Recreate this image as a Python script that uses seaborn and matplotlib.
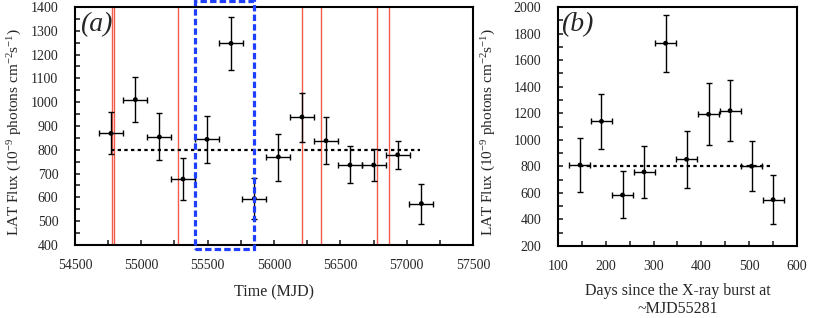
import seaborn as sns
import matplotlib.pyplot as plt
import numpy as np
import pandas as pd
from matplotlib.patches import Rectangle
from matplotlib.ticker import MultipleLocator

# panel (a): 6-month bins
mjd = [54771, 54955, 55136, 55314, 55495, 55676, 55852, 56033, 56211, 56392, 56573, 56751, 56932, 57111]
flux_a = [869, 1011, 854, 677, 844, 1247, 595, 770, 938, 838, 736, 736, 779, 574]
flux_a_hi = [958, 1105, 953, 766, 943, 1359, 683, 866, 1040, 937, 816, 802, 837, 656]
flux_a_lo = [781, 917, 757, 587, 743, 1135, 509, 670, 833, 740, 659, 669, 719, 488]
mjd_halfbin = 90

# panel (b): 45-day bins after the X-ray burst
days = [146, 191, 235, 280, 325, 369, 415, 460, 505, 550]
flux_b = [810, 1139, 584, 758, 1727, 853, 1192, 1219, 801, 549]
flux_b_hi = [1014, 1342, 763, 956, 1940, 1069, 1425, 1448, 991, 733]
flux_b_lo = [605, 931, 411, 560, 1513, 637, 960, 991, 617, 368]
days_halfbin = 22

mean_flux = 800
red_lines = [54777, 54797, 55279, 56209, 56352, 56779, 56867]
box_mjd = [55404, 55851]

df_a = pd.DataFrame({"mjd": mjd, "flux": flux_a, "hi": flux_a_hi, "lo": flux_a_lo})
df_b = pd.DataFrame({"days": days, "flux": flux_b, "hi": flux_b_hi, "lo": flux_b_lo})

sns.set_style("ticks")
plt.rcParams["font.family"] = ["Liberation Serif", "DejaVu Serif"]
plt.rcParams["mathtext.fontset"] = "custom"
plt.rcParams["mathtext.rm"] = "Liberation Serif"
plt.rcParams["mathtext.it"] = "Liberation Serif:italic"

fig = plt.figure(figsize=(8.14, 3.18), dpi=100)
ax1 = fig.add_axes([0.0921, 0.2296, 0.489, 0.7484])
ax2 = fig.add_axes([0.6855, 0.2264, 0.2936, 0.7516])

ylab = r"LAT Flux (10$^{-9}$ photons cm$^{-2}$s$^{-1}$)"
ebkw = dict(fmt="none", ecolor="black", elinewidth=1.0, capsize=2.5, capthick=1.0, zorder=3)

# (a)
for x in red_lines:
    ax1.axvline(x, color="#f25c4a", lw=1.0, zorder=1)
ax1.errorbar(df_a["mjd"], df_a["flux"],
             yerr=[df_a["flux"] - df_a["lo"], df_a["hi"] - df_a["flux"]],
             xerr=mjd_halfbin, **ebkw)
sns.scatterplot(data=df_a, x="mjd", y="flux", ax=ax1, color="black", s=12,
                edgecolor="none", zorder=4)
ax1.hlines(mean_flux, mjd[0], 57100, colors="black", lw=1.6,
           linestyles=(0, (1.5, 1.5)), zorder=2)
ax1.add_patch(Rectangle((box_mjd[0], 383), box_mjd[1] - box_mjd[0], 1042,
                        fill=False, edgecolor="#1f3fff", lw=2.3,
                        linestyle=(0, (2, 1)), clip_on=False, zorder=5))
ax1.set_xlim(54500, 57500)
ax1.set_ylim(400, 1400)
ax1.xaxis.set_major_locator(MultipleLocator(500))
ax1.xaxis.set_minor_locator(MultipleLocator(250))
ax1.yaxis.set_major_locator(MultipleLocator(100))
ax1.yaxis.set_minor_locator(MultipleLocator(50))
ax1.set_xlabel("Time (MJD)", fontsize=11.5)
ax1.set_ylabel(ylab, fontsize=11)
ax1.xaxis.set_label_coords(0.5, -0.165)
ax1.yaxis.set_label_coords(-0.128, 0.475)
ax1.text(0.012, 0.925, "(a)", transform=ax1.transAxes, fontsize=20,
         style="italic", va="center", ha="left")

# (b)
ax2.errorbar(df_b["days"], df_b["flux"],
             yerr=[df_b["flux"] - df_b["lo"], df_b["hi"] - df_b["flux"]],
             xerr=days_halfbin, **ebkw)
sns.scatterplot(data=df_b, x="days", y="flux", ax=ax2, color="black", s=12,
                edgecolor="none", zorder=4)
ax2.hlines(mean_flux, days[0], days[-1], colors="black", lw=1.6,
           linestyles=(0, (1.5, 1.5)), zorder=2)
ax2.set_xlim(100, 600)
ax2.set_ylim(200, 2000)
ax2.xaxis.set_major_locator(MultipleLocator(100))
ax2.xaxis.set_minor_locator(MultipleLocator(50))
ax2.yaxis.set_major_locator(MultipleLocator(200))
ax2.yaxis.set_minor_locator(MultipleLocator(100))
ax2.set_xlabel("Days since the X-ray burst at\n~MJD55281", fontsize=11.5, linespacing=1.15)
ax2.set_ylabel(ylab, fontsize=11)
ax2.xaxis.set_label_coords(0.5, -0.155)
ax2.yaxis.set_label_coords(-0.25, 0.475)
ax2.text(0.012, 0.925, "(b)", transform=ax2.transAxes, fontsize=20,
         style="italic", va="center", ha="left")

for ax in (ax1, ax2):
    for sp in ax.spines.values():
        sp.set_linewidth(1.5)
        sp.set_color("black")
    ax.tick_params(which="both", direction="in", length=3.5, width=1.2,
                   top=False, right=False, labelsize=10)
    ax.tick_params(axis="x", which="major", pad=10)
    ax.tick_params(axis="y", which="major", pad=12)

fig.savefig("out.png", dpi=100)
